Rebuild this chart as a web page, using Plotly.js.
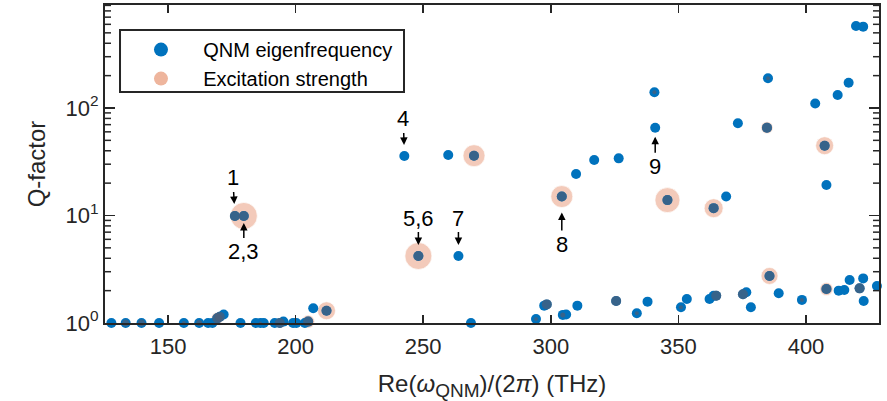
<!DOCTYPE html>
<html><head><meta charset="utf-8">
<script src="https://cdn.plot.ly/plotly-3.0.1.min.js"></script>
<style>html,body{margin:0;padding:0;background:#fff}#chart{width:887px;height:401px}</style>
</head><body><div id="chart"></div>
<script>
// QNM eigenfrequencies: Re(omega)/(2 pi) in THz and Q-factor
const qnmFreq = [127.8,133.4,139.6,146.5,156.2,162.2,165.7,167.4,169.3,170.3,171.8,178.4,184.4,186.2,187.5,191.8,193.8,195.2,199.0,200.3,203.6,204.9,206.9,212.1,268.7,294.2,297.4,298.4,304.7,306.0,310.4,325.6,333.7,337.9,351.0,353.3,362.2,363.8,364.8,375.3,376.6,378.4,385.7,389.3,398.4,408.0,412.8,415.0,417.1,421.0,422.4,422.6,427.8,
  176.2,179.7,242.6,259.8,269.9,248.1,263.8,304.3,309.9,317.0,326.6,340.9,340.6,345.7,363.8,368.7,373.3,384.7,385.1,403.6,407.3,408.0,412.4,416.7,419.6,422.4];
const qnmQ = [1.0,1.0,1.0,1.0,1.0,1.0,1.0,1.0,1.105,1.145,1.20,1.0,1.0,1.0,1.0,1.0,1.0,1.03,1.0,1.0,1.0,1.03,1.37,1.30,1.0,1.09,1.45,1.49,1.19,1.20,1.45,1.60,1.23,1.58,1.40,1.67,1.67,1.79,1.79,1.85,1.93,1.40,2.74,1.89,1.64,2.07,2.0,2.03,2.51,2.10,2.60,1.60,2.21,
  9.9,9.9,35.8,36.5,36.0,4.2,4.2,15.0,24.3,32.8,34.0,65.6,140,13.9,11.7,15.0,72,65.6,189,110,44.6,19.2,132,172,579,571];

// Excitation strength (relative, shown as marker diameter) at excited modes
const excFreq = [133.4,139.6,156.2,162.2,169.3,170.3,186.2,193.8,204.9,212.1,176.2,179.7,269.9,248.1,294.2,298.4,304.7,304.3,325.6,333.7,340.6,345.7,351.0,363.8,364.8,375.3,384.7,385.1,385.7,398.4,407.3,408.0,421.0];
const excQ = [1.0,1.0,1.0,1.0,1.105,1.145,1.0,1.0,1.03,1.30,9.9,9.9,36.0,4.2,1.09,1.49,1.19,15.0,1.60,1.23,140,13.9,1.40,11.7,1.79,1.85,65.6,189,2.74,1.64,44.6,2.07,2.10];
const excStrength = [7,7,4,6,12,10,3,10,13,18,10,27,22,27,4,10,5,22,10,4,4,25,4,19,10,10,12,4,17,4,18,13,10];

// Labelled modes
const labelText = ['1','2,3','4','5,6','7','8','9'];
const labelFreq = [176.2,179.7,242.6,248.1,263.8,304.3,340.9];
const labelQ = [9.9,9.9,35.8,4.2,4.2,15.0,65.6];

// Axis ticks
const xTicks = [150,200,250,300,350,400];
const yTicks = [1,10,100];
const yTickText = ['10<sup>0</sup>','10<sup>1</sup>','10<sup>2</sup>'];

const BLUE = '#0072BD', SALMON = '#EEB59D', DARK = '#4F5D75', INK = '#262626';
const FONT = 'Liberation Sans, Arial, sans-serif';
const NB = '\u00a0\u00a0\u00a0\u00a0';
const Y_RANGE = [0, 2.958];
const PLOT_W = 887 - 105 - 8;

// minor log ticks (2..9 per decade), drawn on left and right frame edges
const yMinor = [];
[1,10,100].forEach(d => { for (let k = 2; k <= 9; k++) { if (Math.log10(k*d) < Y_RANGE[1]) yMinor.push(k*d); } });
const minorLen = 6 / PLOT_W;
const minorShapes = [];
yMinor.forEach(v => {
  minorShapes.push({type: 'line', xref: 'paper', yref: 'y', x0: 0, x1: minorLen, y0: v, y1: v,
    line: {color: INK, width: 1.5}, layer: 'above'});
  minorShapes.push({type: 'line', xref: 'paper', yref: 'y', x0: 1 - minorLen, x1: 1, y0: v, y1: v,
    line: {color: INK, width: 1.5}, layer: 'above'});
});

const traces = [
  {x: excFreq, y: excQ, type: 'scatter', mode: 'markers', showlegend: false, cliponaxis: false,
   marker: {color: SALMON, size: excStrength, line: {color: 'rgba(255,255,255,0.7)', width: 1}}},
  {x: qnmFreq, y: qnmQ, type: 'scatter', mode: 'markers', showlegend: false, cliponaxis: false,
   marker: {color: BLUE, size: 10, line: {width: 0}}},
  {x: excFreq, y: excQ, type: 'scatter', mode: 'markers', showlegend: false, cliponaxis: false,
   marker: {color: DARK, size: excStrength.map(s => Math.min(s, 10)), line: {width: 0}}},
  {x: [null], y: [null], type: 'scatter', mode: 'markers', name: NB + 'QNM eigenfrequency',
   marker: {color: BLUE, size: 14}},
  {x: [null], y: [null], type: 'scatter', mode: 'markers', name: NB + 'Excitation strength',
   marker: {color: SALMON, size: 14}}
];

const offsets = [[-2,-38,12],[0,36,7],[-1,-37,11],[0,-38,11],[0,-38,11],[0,48,16],[0,39,9]];
const annotations = labelText.map((t, i) => ({
  x: labelFreq[i], y: Math.log10(labelQ[i]), xref: 'x', yref: 'y', text: t,
  showarrow: true, ax: offsets[i][0], ay: offsets[i][1], standoff: offsets[i][2],
  arrowhead: 2, arrowsize: 1, arrowwidth: 1.5, arrowcolor: '#000',
  font: {family: FONT, size: 22, color: '#000'}
}));

const layout = {
  width: 887, height: 401,
  margin: {l: 105, r: 8, t: 5, b: 78},
  paper_bgcolor: '#fff', plot_bgcolor: '#fff',
  font: {family: FONT, size: 22, color: INK},
  showlegend: true,
  legend: {x: 0.0465, y: 0.921, xanchor: 'left', yanchor: 'top', bgcolor: 'rgba(0,0,0,0)',
    borderwidth: 0, font: {family: FONT, size: 20, color: '#000'},
    itemsizing: 'trace', tracegroupgap: 0},
  shapes: [{type: 'rect', xref: 'paper', yref: 'paper', x0: 0.0194, x1: 0.3863, y0: 0.7264, y1: 0.9214,
    line: {color: INK, width: 2}, fillcolor: '#fff', layer: 'below'}].concat(minorShapes),
  xaxis: {range: [125.3, 428.6], showgrid: false, zeroline: false, showline: true,
    linecolor: INK, linewidth: 2, mirror: 'ticks', ticks: 'inside', ticklen: 8,
    tickwidth: 1.5, tickcolor: INK, tickmode: 'array', tickvals: xTicks, ticklabelstandoff: 3,
    tickfont: {family: FONT, size: 22, color: INK},
    title: {text: 'Re(<i>ω</i><sub><span style="font-size:19px">QNM</span></sub>)/(2<i>π</i>) (THz)', standoff: 17,
      font: {family: FONT, size: 24, color: INK}}},
  yaxis: {type: 'log', range: Y_RANGE, showgrid: false, zeroline: false, showline: true,
    linecolor: INK, linewidth: 2, mirror: 'ticks', ticks: 'inside', ticklen: 10,
    tickwidth: 1.5, tickcolor: INK, tickmode: 'array', tickvals: yTicks, ticktext: yTickText,
    tickfont: {family: FONT, size: 22, color: INK},
    title: {text: 'Q-factor', standoff: 13, font: {family: FONT, size: 24, color: INK}}},
  annotations: annotations
};

Plotly.newPlot('chart', traces, layout, {displayModeBar: false, staticPlot: true});
</script>
</body></html>
